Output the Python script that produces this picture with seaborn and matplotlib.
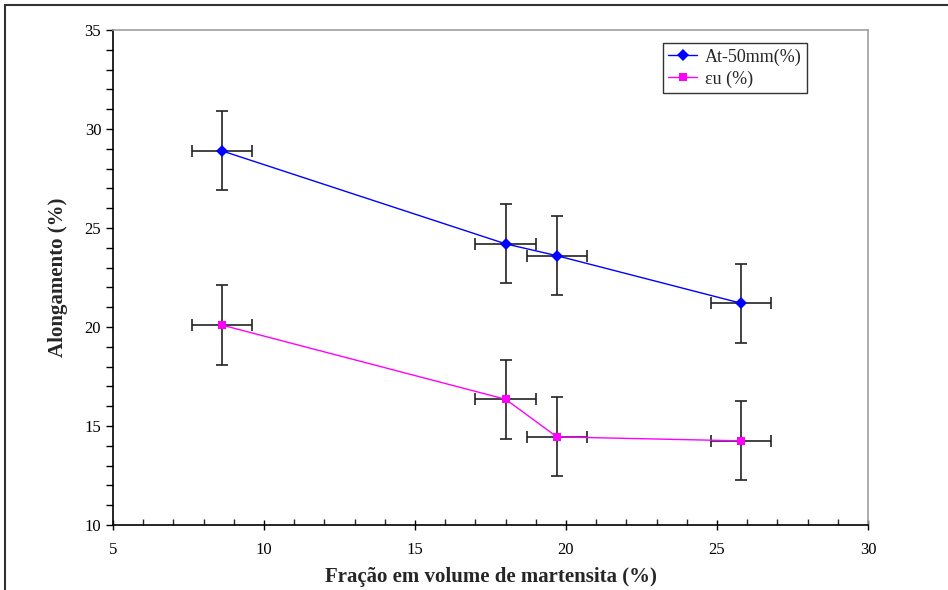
import matplotlib
matplotlib.use("Agg")
import matplotlib.pyplot as plt
import seaborn as sns
import pandas as pd
from matplotlib.patches import Rectangle
from matplotlib.ticker import MultipleLocator

# Data
fracao = [8.6, 18.0, 19.7, 25.8]
at50 = [28.9, 24.2, 23.6, 21.2]
eu = [20.1, 16.35, 14.45, 14.25]
xerr = [1.0, 1.0, 1.0, 1.0]
yerr = [2.0, 2.0, 2.0, 2.0]
series_names = ["At-50mm(%)", "εu (%)"]

sns.set_style("white")
plt.rcParams['font.family'] = ['Liberation Serif', 'DejaVu Serif']
plt.rcParams['mathtext.fontset'] = 'stix'

df = pd.DataFrame({
    "x": fracao * 2,
    "y": at50 + eu,
    "serie": [series_names[0]] * 4 + [series_names[1]] * 4,
})

fig = plt.figure(figsize=(9.48, 5.90), dpi=100)
ax = fig.add_axes([113 / 948, 65 / 590, 755 / 948, 495 / 590])

# error bars
for ys in (at50, eu):
    ax.errorbar(fracao, ys, xerr=xerr, yerr=yerr, fmt='none', ecolor='#222222',
                elinewidth=1.2, capsize=4, capthick=1.2, zorder=2)

sns.lineplot(data=df, x="x", y="y", hue="serie", style="serie",
             palette={series_names[0]: "#0000FF", series_names[1]: "#FF00FF"},
             markers={series_names[0]: "D", series_names[1]: "s"},
             dashes=False, sort=False, linewidth=1.0, markersize=6,
             markeredgewidth=0, ax=ax, zorder=3)

ax.set_xlim(5, 30)
ax.set_ylim(10, 35)
ax.xaxis.set_major_locator(MultipleLocator(5))
ax.xaxis.set_minor_locator(MultipleLocator(1))
ax.yaxis.set_major_locator(MultipleLocator(5))
ax.yaxis.set_minor_locator(MultipleLocator(1))
ax.tick_params(axis='x', which='major', direction='inout', length=7, width=1, labelsize=12, pad=9, colors='black')
ax.tick_params(axis='x', which='minor', direction='in', length=4, width=1)
ax.tick_params(axis='y', which='both', direction='out', length=5, width=1, labelsize=12, left=True, colors='black')
ax.tick_params(axis='x', which='both', bottom=True)

for s in ('left', 'bottom'):
    ax.spines[s].set_color('black')
    ax.spines[s].set_linewidth(1.2)
for s in ('top', 'right'):
    ax.spines[s].set_color('#A0A0A0')
    ax.spines[s].set_linewidth(1.2)

ax.set_xlabel("Fração em volume de martensita (%)", fontsize=15, fontweight='bold', labelpad=6)
ax.set_ylabel("Alongamento (%)", fontsize=15, fontweight='bold', labelpad=12)

leg = ax.legend(loc='upper left', bbox_to_anchor=((663 - 113) / 755, (525 - 43) / 495),
                frameon=True, fancybox=False, fontsize=13, handlelength=1.6,
                borderpad=0.3, labelspacing=0.25, handletextpad=0.4, borderaxespad=0)
leg.get_frame().set_edgecolor('black')
leg.get_frame().set_linewidth(1.0)
leg.set_title(None)

# outer chart border (top and left)
fig.patches.append(Rectangle((5 / 948, -0.1), 1.2, (585 / 590) + 0.1, transform=fig.transFigure,
                             fill=False, edgecolor='#333333', linewidth=1.5))

fig.savefig("out.png", dpi=100)
